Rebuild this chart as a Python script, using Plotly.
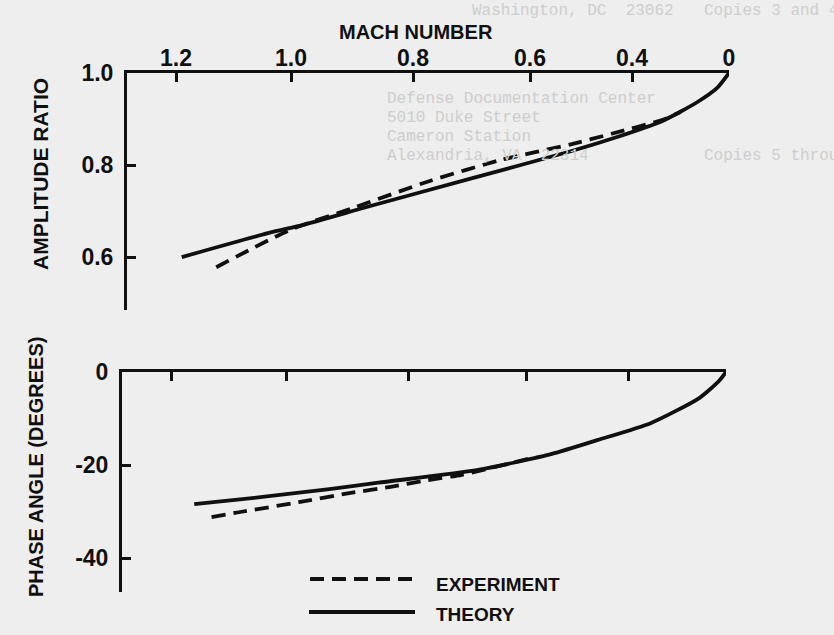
import numpy as np
import plotly.graph_objects as go

# Mach-number scale along the horizontal axis (non-linear): tick labels and
# the station (distance from the left axis) at which each one sits.
MACH_TICKS = [1.2, 1.0, 0.8, 0.6, 0.4, 0.0]
MACH_TICK_TEXT = ["1.2", "1.0", "0.8", "0.6", "0.4", "0"]
MACH_STATIONS = [49, 164, 286, 403, 505, 602]

# Amplitude ratio vs Mach number
THEORY_AMP_MACH = [1.19, 1.04, 0.98, 0.87, 0.70, 0.52, 0.44, 0.27, 0.13, 0.05, 0.0]
THEORY_AMP = [0.600, 0.652, 0.670, 0.711, 0.771, 0.830, 0.857, 0.897, 0.937, 0.967, 1.0]
EXPERIMENT_AMP_MACH = [1.13, 1.00, 0.90, 0.77, 0.65, 0.52, 0.44, 0.27, 0.20]
EXPERIMENT_AMP = [0.578, 0.660, 0.706, 0.766, 0.811, 0.845, 0.868, 0.899, 0.915]

# Phase angle (degrees) vs Mach number
THEORY_PH_MACH = [1.16, 1.06, 0.93, 0.85, 0.68, 0.55, 0.46, 0.31, 0.11, 0.03, 0.0]
THEORY_PHASE = [-28.4, -27.1, -25.2, -23.8, -21.0, -17.6, -14.6, -11.0, -5.6, -2.0, 0.0]
EXPERIMENT_PH_MACH = [1.13, 1.08, 0.98, 0.90, 0.83, 0.77, 0.71, 0.59]
EXPERIMENT_PHASE = [-31.2, -30.1, -28.0, -26.1, -24.7, -23.3, -22.1, -18.5]

AMP_TICKS = [1.0, 0.8, 0.6]
PHASE_TICKS = [0, -20, -40]

W, H = 834, 635
INK = "#101010"
PAPER = "#eeeeee"
GHOST = "#cdcdcd"
FONT = "Liberation Sans, Arial, sans-serif"


def station(mach):
    """Map Mach numbers onto the horizontal axis stations."""
    m = np.asarray(mach, dtype=float)
    return np.interp(m, MACH_TICKS[::-1], MACH_STATIONS[::-1])


def hx(p):
    return p / W


def vy(p):
    return 1 - p / H


fig = go.Figure()

line_solid = dict(color=INK, width=3.8, shape="spline", smoothing=0.6)
line_dash = dict(color=INK, width=3.8, dash="14px,8px", shape="spline", smoothing=0.6)

fig.add_trace(go.Scatter(x=station(THEORY_AMP_MACH), y=THEORY_AMP, mode="lines",
                         line=line_solid, name="THEORY", showlegend=False,
                         cliponaxis=False, xaxis="x", yaxis="y"))
fig.add_trace(go.Scatter(x=station(EXPERIMENT_AMP_MACH), y=EXPERIMENT_AMP, mode="lines",
                         line=line_dash, name="EXPERIMENT", showlegend=False,
                         cliponaxis=False, xaxis="x", yaxis="y"))
fig.add_trace(go.Scatter(x=station(THEORY_PH_MACH), y=THEORY_PHASE, mode="lines",
                         line=line_solid, name="THEORY", showlegend=False,
                         cliponaxis=False, xaxis="x2", yaxis="y2"))
fig.add_trace(go.Scatter(x=station(EXPERIMENT_PH_MACH), y=EXPERIMENT_PHASE, mode="lines",
                         line=line_dash, name="EXPERIMENT", showlegend=False,
                         cliponaxis=False, xaxis="x2", yaxis="y2"))

axis_common = dict(showgrid=False, zeroline=False, showline=True, linewidth=3,
                   linecolor=INK, ticks="inside", ticklen=9, tickwidth=2.5,
                   tickcolor=INK, fixedrange=True, automargin=False)
tick_font = dict(family=FONT, size=23, color=INK)

fig.update_layout(
    width=W, height=H, autosize=False,
    margin=dict(l=0, r=0, t=0, b=0, pad=0),
    paper_bgcolor=PAPER, plot_bgcolor="rgba(0,0,0,0)",
    xaxis=dict(domain=[hx(127), hx(729)], range=[0, MACH_STATIONS[-1]], side="top",
               anchor="y", tickmode="array", tickvals=MACH_STATIONS,
               ticktext=[f"<b>{t}</b>" for t in MACH_TICK_TEXT],
               tickfont=tick_font, ticklabelstandoff=-5, **axis_common),
    yaxis=dict(domain=[vy(310), vy(73)], range=[0.485, 1.0], anchor="x",
               tickmode="array", tickvals=AMP_TICKS,
               ticktext=[f"<b>{v:.1f}</b>" for v in AMP_TICKS],
               tickfont=tick_font, ticklabelstandoff=6, **axis_common),
    xaxis2=dict(domain=[hx(122), hx(726)], range=[0, MACH_STATIONS[-1]], side="top",
                anchor="y2", tickmode="array", tickvals=MACH_STATIONS,
                showticklabels=False, **axis_common),
    yaxis2=dict(domain=[vy(592), vy(372)], range=[-47.3, 0], anchor="x2",
                tickmode="array", tickvals=PHASE_TICKS,
                ticktext=[f"<b>{v}</b>" for v in PHASE_TICKS],
                tickfont=tick_font, ticklabelstandoff=6, **axis_common),
)

title_font = dict(family=FONT, size=20, color=INK)
legend_font = dict(family=FONT, size=19, color=INK)
annotations = [
    dict(text="<b>MACH NUMBER</b>", x=hx(416), y=vy(32), font=title_font),
    dict(text="<b>AMPLITUDE RATIO</b>", x=hx(40), y=vy(174), textangle=-90,
         font=dict(family=FONT, size=21, color=INK)),
    dict(text="<b>PHASE ANGLE (DEGREES)</b>", x=hx(36), y=vy(467), textangle=-90, font=title_font),
    dict(text="<b>EXPERIMENT</b>", x=hx(434), y=vy(584), xanchor="left", font=legend_font),
    dict(text="<b>THEORY</b>", x=hx(434), y=vy(614), xanchor="left", font=legend_font),
]

# Faint typewritten text showing through from the reverse of the sheet
ghost_font = dict(family="Liberation Mono, DejaVu Sans Mono, monospace", size=16, color=GHOST)
ghost_lines = [
    ("Washington, DC  23062", 470, 11),
    ("Copies 3 and 4", 702, 11),
    ("Defense Documentation Center", 385, 99),
    ("5010 Duke Street", 385, 118),
    ("Cameron Station", 385, 137),
    ("Alexandria, VA  22314", 385, 156),
    ("Copies 5 through", 702, 156),
]
for text, gx, gy in ghost_lines:
    annotations.append(dict(text=text, x=hx(gx), y=vy(gy), xanchor="left", font=ghost_font))

for a in annotations:
    a.setdefault("xanchor", "center")
    a.update(xref="paper", yref="paper", yanchor="middle", showarrow=False)
fig.update_layout(annotations=annotations)

# Legend keys
fig.add_shape(type="line", xref="paper", yref="paper", x0=hx(310), x1=hx(416),
              y0=vy(579), y1=vy(579), line=dict(color=INK, width=3.8, dash="14px,8px"))
fig.add_shape(type="line", xref="paper", yref="paper", x0=hx(309), x1=hx(415),
              y0=vy(612), y1=vy(612), line=dict(color=INK, width=3.8))

fig.write_html("out.html", config={"displayModeBar": False})
